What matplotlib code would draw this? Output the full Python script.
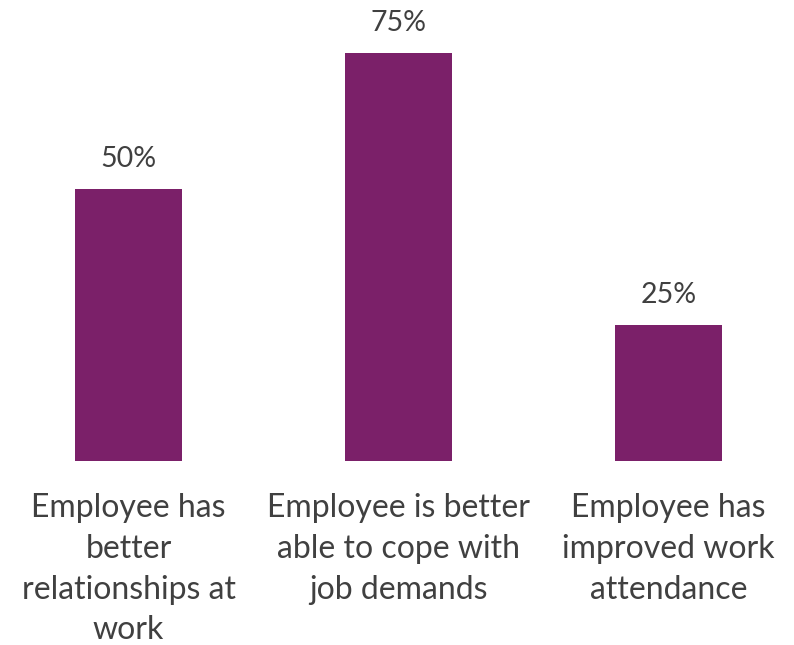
import matplotlib
matplotlib.use("Agg")
import matplotlib.pyplot as plt

categories = ["Employee has\nbetter\nrelationships at\nwork",
              "Employee is better\nable to cope with\njob demands",
              "Employee has\nimproved work\nattendance"]
values = [50, 75, 25]
value_labels = ["50%", "75%", "25%"]

plt.rcParams['font.family'] = ['Lato', 'DejaVu Sans']
text_color = "#404040"
bar_color = "#7B2069"

fig = plt.figure(figsize=(7.94, 6.45), dpi=100)
ax = fig.add_axes([0, (645 - 461) / 645, 1, 461 / 645])
x = list(range(len(categories)))
bars = ax.bar(x, values, width=107 / 270, color=bar_color)
ax.set_xlim(-128.5 / 270, (794 - 128.5) / 270)
ax.set_ylim(0, 461 / 136 * 25)

for b, lab in zip(bars, value_labels):
    ax.annotate(lab, (b.get_x() + b.get_width() / 2, b.get_height()),
                xytext=(0, 12), textcoords="offset points",
                ha="center", va="bottom", fontsize=20.5, color=text_color)

ax.set_xticks(x)
ax.set_xticklabels(categories, fontsize=23, color=text_color, linespacing=1.45)
ax.tick_params(axis='x', length=0, pad=23)
ax.set_yticks([])
for s in ax.spines.values():
    s.set_visible(False)

fig.savefig("out.png", dpi=100)
